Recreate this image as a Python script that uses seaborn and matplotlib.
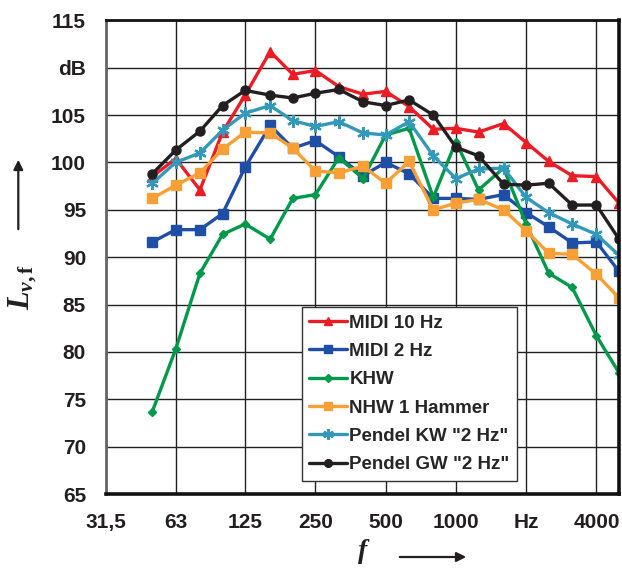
import matplotlib
matplotlib.use("Agg")
import matplotlib.pyplot as plt
import seaborn as sns
import pandas as pd

# Third-octave band centre frequencies (Hz)
freqs = [50, 63, 80, 100, 125, 160, 200, 250, 315, 400, 500, 630,
         800, 1000, 1250, 1600, 2000, 2500, 3150, 4000, 5000]

midi_10hz = [98.5, 100.4, 97.1, 103.2, 107.1, 111.7, 109.3, 109.7, 108.0, 107.2, 107.5,
             105.9, 103.5, 103.6, 103.2, 104.1, 102.1, 100.1, 98.6, 98.5, 95.7]
midi_2hz = [91.6, 92.9, 92.9, 94.6, 99.5, 103.9, 101.5, 102.3, 100.6, 98.6, 100.0,
            98.8, 96.2, 96.2, 96.1, 96.6, 94.7, 93.2, 91.5, 91.6, 88.5]
khw = [73.7, 80.3, 88.3, 92.4, 93.5, 91.9, 96.2, 96.6, 100.5, 98.3, 102.9,
       103.6, 96.3, 102.2, 97.1, 99.4, 93.5, 88.3, 86.8, 81.7, 77.8]
nhw_1_hammer = [96.2, 97.6, 98.9, 101.4, 103.2, 103.1, 101.5, 99.1, 98.9, 99.6, 97.8,
                100.1, 95.0, 95.7, 96.1, 95.0, 92.8, 90.4, 90.3, 88.2, 85.7]
pendel_kw = [97.8, 100.0, 101.0, 103.4, 105.2, 106.0, 104.4, 103.8, 104.3, 103.1, 102.9,
             104.3, 100.7, 98.3, 99.3, 99.4, 96.3, 94.7, 93.5, 92.4, 90.2]
pendel_gw = [98.8, 101.3, 103.3, 106.0, 107.6, 107.1, 106.8, 107.3, 107.7, 106.4, 106.0,
             106.6, 105.0, 101.6, 100.7, 97.7, 97.6, 97.8, 95.5, 95.5, 91.9]

series_names = ["MIDI 10 Hz", "MIDI 2 Hz", "KHW", "NHW 1 Hammer",
                'Pendel KW "2 Hz"', 'Pendel GW "2 Hz"']
series_values = [midi_10hz, midi_2hz, khw, nhw_1_hammer, pendel_kw, pendel_gw]

x_ticks = [31.5, 63, 125, 250, 500, 1000, 2000, 4000]
x_ticklabels = ["31,5", "63", "125", "250", "500", "1000", "Hz", "4000"]
y_ticks = [65, 70, 75, 80, 85, 90, 95, 100, 105, 110, 115]
y_ticklabels = ["65", "70", "75", "80", "85", "90", "95", "100", "105", "dB", "115"]

frames = []
for name, vals in zip(series_names, series_values):
    frames.append(pd.DataFrame({"f": freqs, "L": vals, "Serie": name}))
df = pd.concat(frames, ignore_index=True)

palette = {
    "MIDI 10 Hz": "#EC1C24",
    "MIDI 2 Hz": "#1F4EA6",
    "KHW": "#00994A",
    "NHW 1 Hammer": "#F8A036",
    'Pendel KW "2 Hz"': "#3399BB",
    'Pendel GW "2 Hz"': "#231F20",
}
# seaborn wants filled markers only; the asterisk is set on the line afterwards
seaborn_markers = {
    "MIDI 10 Hz": "^",
    "MIDI 2 Hz": "s",
    "KHW": "D",
    "NHW 1 Hammer": "s",
    'Pendel KW "2 Hz"': "o",
    'Pendel GW "2 Hz"': "o",
}
final_markers = dict(seaborn_markers)
final_markers['Pendel KW "2 Hz"'] = (6, 2, 0)
msizes = {
    "MIDI 10 Hz": 7.5,
    "MIDI 2 Hz": 7,
    "KHW": 4.5,
    "NHW 1 Hammer": 6.5,
    'Pendel KW "2 Hz"': 9,
    'Pendel GW "2 Hz"': 6.5,
}

sns.set_style("white")
plt.rcParams["font.family"] = ["Liberation Sans", "DejaVu Sans"]
plt.rcParams["font.weight"] = "bold"
plt.rcParams["mathtext.fontset"] = "custom"
plt.rcParams["mathtext.it"] = "Liberation Serif:italic:bold"
plt.rcParams["mathtext.rm"] = "Liberation Serif:bold"

fig = plt.figure(figsize=(6.22, 5.68), dpi=100)
ax = fig.add_axes([105.5 / 622, (568 - 494) / 568, (619 - 105.5) / 622, (494 - 20.3) / 568])

sns.lineplot(data=df, x="f", y="L", hue="Serie", style="Serie",
             hue_order=series_names, style_order=series_names,
             palette=palette, markers=seaborn_markers, dashes=False,
             linewidth=2.4, ax=ax, legend=True)


def style_line(line, name, scale=1.0):
    line.set_marker(final_markers[name])
    line.set_markersize(msizes[name] * scale)
    line.set_markeredgecolor(palette[name])
    line.set_markerfacecolor(palette[name])
    line.set_markeredgewidth(1.6 if name.startswith("Pendel KW") else 1.0)
    line.set_solid_joinstyle("round")


for line, name in zip(ax.get_lines(), series_names):
    style_line(line, name)

ax.set_xscale("log")
ax.set_xlim(31.5, 5000)
ax.set_ylim(65, 115)
ax.set_xticks(x_ticks)
ax.set_xticklabels(x_ticklabels)
ax.minorticks_off()
ax.set_yticks(y_ticks)
ax.set_yticklabels(y_ticklabels)
ax.set_xlabel("")
ax.set_ylabel("")

ax.grid(True, color="#222222", linewidth=1.0)
ax.set_axisbelow(True)
ax.tick_params(axis="y", length=5, width=1.2, color="#999999", pad=9,
               labelsize=15)
ax.tick_params(axis="x", length=0, pad=14, labelsize=15)
for lab in ax.get_xticklabels() + ax.get_yticklabels():
    lab.set_fontweight("bold")
    lab.set_color("#231F20")

for side, lw, col in [("left", 2.0, "#666666"), ("bottom", 2.6, "#111111"),
                      ("top", 2.0, "#111111"), ("right", 2.6, "#111111")]:
    ax.spines[side].set_visible(True)
    ax.spines[side].set_linewidth(lw)
    ax.spines[side].set_color(col)

# legend
handles, labels = ax.get_legend_handles_labels()
for h, name in zip(handles, labels):
    style_line(h, name, 0.85)
leg = ax.legend(handles, labels, loc="upper left", bbox_to_anchor=(0.382, 0.395),
                borderaxespad=0, frameon=True, fancybox=False, framealpha=1,
                edgecolor="#333333", prop={"weight": "bold", "size": 13.5},
                handlelength=2.0, handletextpad=0.15, labelspacing=0.6,
                borderpad=0.4)
leg.get_frame().set_linewidth(1.0)

# axis symbols with arrows
fig.text(23 / 622, 1 - 287 / 568, r"$L_{v,\mathrm{f}}$", rotation=90,
         ha="center", va="center", fontsize=22, color="#231F20")
fig.add_artist(matplotlib.patches.FancyArrowPatch(
    (18.3 / 622, 1 - 232 / 568), (18.3 / 622, 1 - 157 / 568),
    transform=fig.transFigure, arrowstyle="-|>", mutation_scale=14,
    linewidth=1.6, color="#231F20"))
fig.text(364 / 622, 1 - 551 / 568, r"$f$", ha="center", va="center",
         fontsize=20, color="#231F20")
fig.add_artist(matplotlib.patches.FancyArrowPatch(
    (397 / 622, 1 - 557 / 568), (469 / 622, 1 - 557 / 568),
    transform=fig.transFigure, arrowstyle="-|>", mutation_scale=14,
    linewidth=1.6, color="#231F20"))

fig.savefig("out.png", dpi=100)
